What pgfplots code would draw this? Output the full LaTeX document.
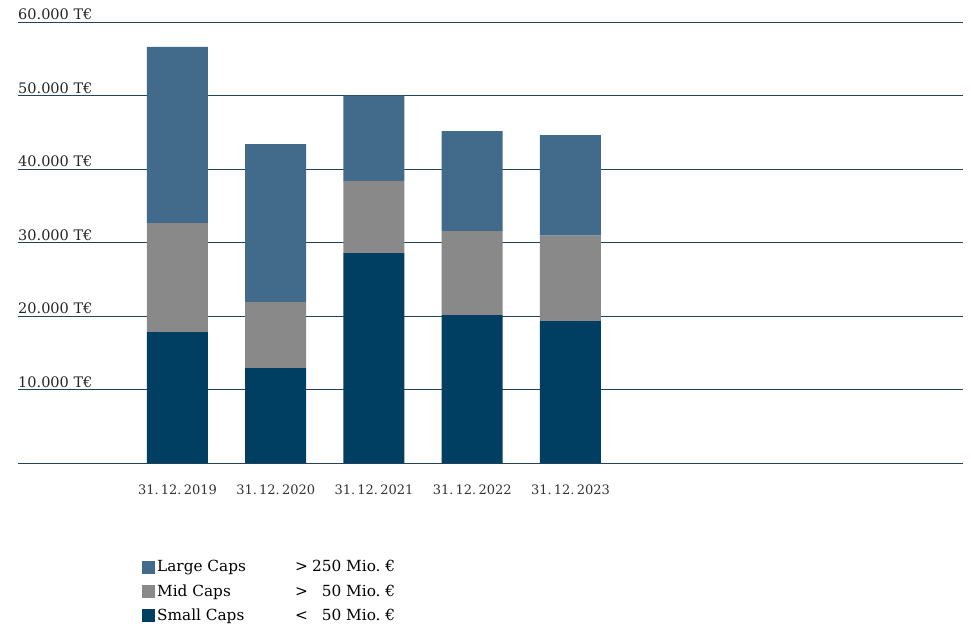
\documentclass[border=0pt]{standalone}
\usepackage{fontspec}
\setmainfont{DejaVu Serif}
\usepackage{pgfplots}
\pgfplotsset{compat=1.18}
\definecolor{large}{HTML}{426B8B}
\definecolor{mid}{HTML}{898989}
\definecolor{small}{HTML}{003F62}
\definecolor{gridc}{HTML}{23435A}
\begin{document}
\begin{tikzpicture}
\useasboundingbox (0pt,0pt) rectangle (971pt,627pt);
\begin{axis}[
  at={(18pt,164pt)}, anchor=south west,
  scale only axis, width=945pt, height=441pt,
  ybar stacked, bar width=61pt,
  xmin=-1.623, xmax=7.995,
  ymin=0, ymax=60000,
  scaled y ticks=false,
  axis line style={draw=none},
  major tick length=0pt,
  xtick={0,1,2,3,4},
  xticklabels={31.\,12.\,2019,31.\,12.\,2020,31.\,12.\,2021,31.\,12.\,2022,31.\,12.\,2023},
  xticklabel style={font=\fontsize{13}{15}\selectfont, color=black!80, yshift=-18pt},
  ytick={0,10000,20000,30000,40000,50000,60000},
  yticklabels={,10.000 T€,20.000 T€,30.000 T€,40.000 T€,50.000 T€,60.000 T€},
  yticklabel style={anchor=base west, inner sep=0pt, yshift=2.5pt, font=\fontsize{14.5}{16}\selectfont, color=black!85},
  ymajorgrids,
  grid style={draw=gridc, line width=0.9pt},
  reverse legend,
  legend style={at={(0.1312,-0.2163)}, anchor=north west, draw=none, inner sep=0pt,
    font=\fontsize{15.3}{17}\selectfont, row sep=7pt,
    /tikz/every even column/.append style={column sep=4pt}},
  legend cell align=left,
  legend image code/.code={\fill[#1] (0pt,-6.5pt) rectangle (13pt,6.5pt);},
]
\addplot[fill=small, draw=none] coordinates {(0,17800) (1,12900) (2,28570) (3,20130) (4,19320)};
\addplot[fill=mid, draw=none] coordinates {(0,14850) (1,9000) (2,9830) (3,11430) (4,11600)};
\addplot[fill=large, draw=none] coordinates {(0,23950) (1,21500) (2,11600) (3,13600) (4,13700)};
\legend{\makebox[138pt][l]{Small Caps}\makebox[14pt][l]{<}\makebox[86pt][r]{50 Mio.\ €},
        \makebox[138pt][l]{Mid Caps}\makebox[14pt][l]{>}\makebox[86pt][r]{50 Mio.\ €},
        \makebox[138pt][l]{Large Caps}\makebox[14pt][l]{>}\makebox[86pt][r]{250 Mio.\ €}}
\end{axis}
\end{tikzpicture}
\end{document}
